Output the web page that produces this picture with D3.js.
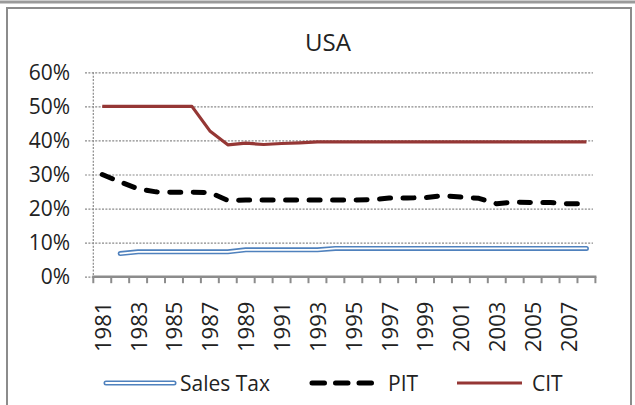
<!DOCTYPE html>
<html>
<head>
<meta charset="utf-8">
<script src="https://cdn.jsdelivr.net/npm/d3@7"></script>
<style>
  html, body { margin: 0; padding: 0; background: #fff; }
  svg { display: block; font-family: "Open Sans", sans-serif; }
</style>
</head>
<body>
<div id="chart"></div>
<script>
// Categories and values (percent)
const years = ['1981', '1982', '1983', '1984', '1985', '1986', '1987', '1988', '1989', '1990',
    '1991', '1992', '1993', '1994', '1995', '1996', '1997', '1998', '1999', '2000',
    '2001', '2002', '2003', '2004', '2005', '2006', '2007', '2008'];

const salesTax = [null, 6.8, 7.3, 7.3, 7.3, 7.3, 7.3, 7.3, 7.9, 7.9,
    7.9, 7.9, 7.9, 8.3, 8.3, 8.3, 8.3, 8.3, 8.3, 8.3,
    8.3, 8.3, 8.3, 8.3, 8.3, 8.3, 8.3, 8.3];

const pit = [30.0, 27.8, 25.8, 24.9, 24.8, 24.8, 24.7, 22.4, 22.5, 22.5,
    22.5, 22.5, 22.5, 22.5, 22.5, 22.6, 23.1, 23.1, 23.2, 23.8,
    23.4, 23.0, 21.4, 21.9, 21.8, 21.8, 21.4, 21.4];

const cit = [50.0, 50.0, 50.0, 50.0, 50.0, 50.0, 42.8, 38.7, 39.2, 38.8,
    39.1, 39.3, 39.6, 39.6, 39.6, 39.6, 39.6, 39.6, 39.6, 39.6,
    39.6, 39.6, 39.6, 39.6, 39.6, 39.6, 39.6, 39.6];

const yTicks = [0, 0.1, 0.2, 0.3, 0.4, 0.5, 0.6];
const legendNames = ['Sales Tax', 'PIT', 'CIT'];

const width = 635, height = 405;
const plot = { left: 93.3, right: 595.4, top: 72.3, bottom: 276.7 };

const svg = d3.select('#chart').append('svg')
    .attr('width', width)
    .attr('height', height);

// Frame
svg.append('line')
    .attr('x1', 0).attr('x2', width)
    .attr('y1', 2).attr('y2', 2)
    .attr('stroke', '#9a9a9a')
    .attr('stroke-width', 3);
svg.append('rect')
    .attr('x', 7).attr('y', 8)
    .attr('width', 624).attr('height', 410)
    .attr('fill', '#fff')
    .attr('stroke', '#8c8c8c')
    .attr('stroke-width', 2);

// Title
svg.append('text')
    .attr('x', 328).attr('y', 41)
    .attr('text-anchor', 'middle')
    .attr('dominant-baseline', 'central')
    .attr('font-size', '24px')
    .attr('fill', '#222')
    .text('USA');

const x = d3.scaleBand()
    .domain(years)
    .range([plot.left, plot.right]);

const y = d3.scaleLinear()
    .domain([0, 0.6])
    .range([plot.bottom, plot.top]);

// Y axis with dotted gridlines
const gridLeft = 85, gridRight = 593;
const yAxis = svg.append('g')
    .attr('transform', `translate(${gridLeft},0)`)
    .call(d3.axisLeft(y)
        .tickValues(yTicks)
        .tickSize(-(gridRight - gridLeft))
        .tickPadding(15)
        .tickFormat(d3.format('.0%')));
yAxis.select('.domain').remove();
yAxis.selectAll('.tick line')
    .attr('stroke', '#8a8a8a')
    .attr('stroke-width', 1.2)
    .attr('stroke-dasharray', '2,1.4');
yAxis.selectAll('.tick text')
    .attr('font-size', '21px')
    .attr('fill', '#222')
    .attr('font-family', '"Open Sans", sans-serif');

// dotted vertical axis line
svg.append('line')
    .attr('x1', plot.left).attr('x2', plot.left)
    .attr('y1', y(0.6)).attr('y2', y(0))
    .attr('stroke', '#8a8a8a')
    .attr('stroke-width', 1.2)
    .attr('stroke-dasharray', '2,1.4');

// X axis: labels on odd years, ticks at category boundaries
const xAxis = svg.append('g')
    .attr('transform', `translate(0,${plot.bottom})`)
    .call(d3.axisBottom(x)
        .tickSize(0)
        .tickFormat((d, i) => i % 2 === 0 ? d : ''));
xAxis.select('.domain').remove();
xAxis.selectAll('.tick text')
    .attr('transform', 'rotate(-90)')
    .attr('text-anchor', 'end')
    .attr('x', -25)
    .attr('y', 0)
    .attr('dy', '0.38em')
    .attr('font-size', '22px')
    .attr('fill', '#222')
    .attr('font-family', '"Open Sans", sans-serif');

const boundaries = years.map(d => x(d)).concat([x.range()[1]]);
svg.append('g')
    .selectAll('line')
    .data(boundaries)
    .join('line')
    .attr('x1', d => d).attr('x2', d => d)
    .attr('y1', plot.bottom).attr('y2', plot.bottom + 6.5)
    .attr('stroke', '#8c8c8c')
    .attr('stroke-width', 2);

svg.append('line')
    .attr('x1', plot.left - 1).attr('x2', x.range()[1] + 1)
    .attr('y1', plot.bottom).attr('y2', plot.bottom)
    .attr('stroke', '#8c8c8c')
    .attr('stroke-width', 2.6);

// Lines
const line = d3.line()
    .defined(d => d.v !== null)
    .x(d => x(d.year) + x.bandwidth() / 2)
    .y(d => y(d.v / 100));

const toPoints = arr => years.map((year, i) => ({ year, v: arr[i] }));

const blue = '#4f81bd', red = '#953735';

// Sales tax: outlined double line
svg.append('path')
    .datum(toPoints(salesTax))
    .attr('d', line)
    .attr('fill', 'none')
    .attr('stroke', blue)
    .attr('stroke-width', 5)
    .attr('stroke-linecap', 'round')
    .attr('stroke-linejoin', 'round');
svg.append('path')
    .datum(toPoints(salesTax))
    .attr('d', line)
    .attr('fill', 'none')
    .attr('stroke', '#fff')
    .attr('stroke-width', 1.8)
    .attr('stroke-linecap', 'round')
    .attr('stroke-linejoin', 'round');

// PIT: black dashes
svg.append('path')
    .datum(toPoints(pit))
    .attr('d', line)
    .attr('fill', 'none')
    .attr('stroke', '#000')
    .attr('stroke-width', 5)
    .attr('stroke-dasharray', '11,12.5')
    .attr('stroke-linecap', 'round')
    .attr('stroke-linejoin', 'round');

// CIT
svg.append('path')
    .datum(toPoints(cit))
    .attr('d', line)
    .attr('fill', 'none')
    .attr('stroke', red)
    .attr('stroke-width', 3.2)
    .attr('stroke-linejoin', 'round');

// Legend
const legendY = 383;
const legendItems = [
    { name: legendNames[0], x1: 106, x2: 174, tx: 180 },
    { name: legendNames[1], x1: 312, x2: 372, tx: 388 },
    { name: legendNames[2], x1: 457, x2: 522, tx: 532 }
];

const lg = svg.append('g');
const it0 = legendItems[0];
lg.append('line')
    .attr('x1', it0.x1).attr('x2', it0.x2)
    .attr('y1', legendY).attr('y2', legendY)
    .attr('stroke', blue).attr('stroke-width', 5)
    .attr('stroke-linecap', 'round');
lg.append('line')
    .attr('x1', it0.x1).attr('x2', it0.x2)
    .attr('y1', legendY).attr('y2', legendY)
    .attr('stroke', '#fff').attr('stroke-width', 1.8)
    .attr('stroke-linecap', 'round');

const it1 = legendItems[1];
lg.append('line')
    .attr('x1', it1.x1).attr('x2', it1.x2 + 10)
    .attr('y1', legendY).attr('y2', legendY)
    .attr('stroke', '#000').attr('stroke-width', 5)
    .attr('stroke-dasharray', '12.5,11')
    .attr('stroke-linecap', 'round');

const it2 = legendItems[2];
lg.append('line')
    .attr('x1', it2.x1).attr('x2', it2.x2)
    .attr('y1', legendY).attr('y2', legendY)
    .attr('stroke', red).attr('stroke-width', 3.2);

lg.selectAll('text')
    .data(legendItems)
    .join('text')
    .attr('x', d => d.tx)
    .attr('y', legendY)
    .attr('dominant-baseline', 'central')
    .attr('font-size', '21px')
    .attr('fill', '#222')
    .text(d => d.name);
</script>
</body>
</html>
